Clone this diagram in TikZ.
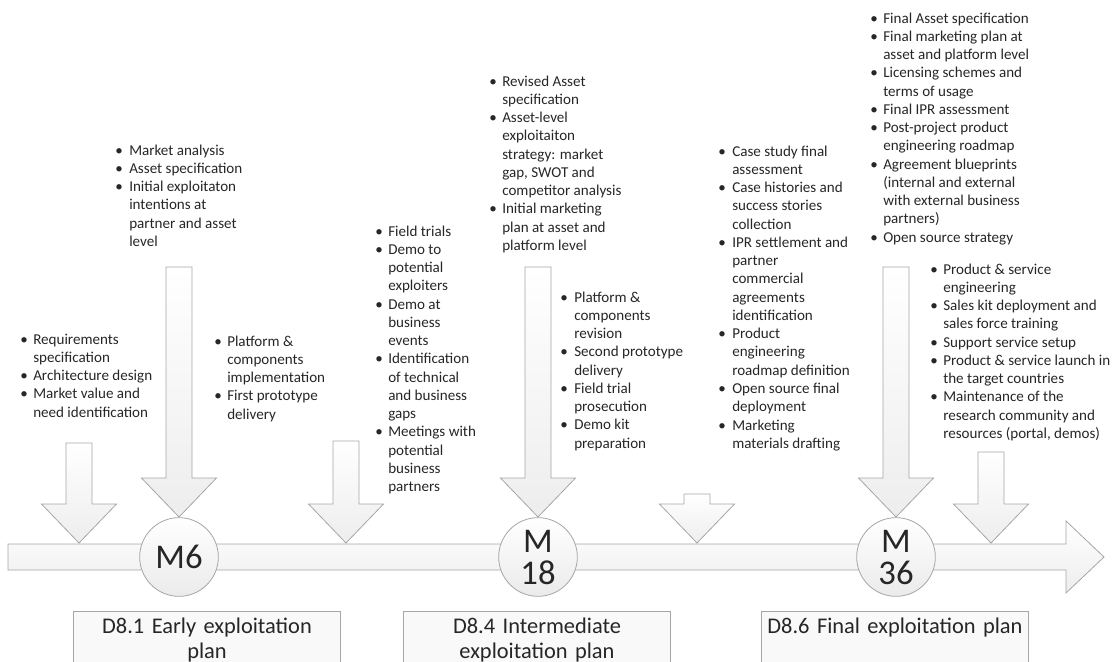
\documentclass[tikz,border=0pt]{standalone}
\usepackage{fontspec}
\setmainfont{Carlito}
\usepackage{tikz}

% down arrow: centre x, top of shaft, tip
\newcommand{\dnarrow}[3]{%
  \draw[arrowshape] (#1-13,#2) -- (#1+13,#2) -- (#1+13,#3-39) -- (#1+37.5,#3-39)
    -- (#1,#3) -- (#1-37.5,#3-39) -- (#1-13,#3-39) -- cycle;}
\newcommand{\li}{\textbullet&}

\begin{document}
\begin{tikzpicture}[x=0.75pt,y=-0.75pt,
        arrowshape/.style={draw=gray!70,line width=0.6pt,top color=white,bottom color=gray!14},
        blist/.style={anchor=base west,inner sep=0pt,font=\fontsize{11.3pt}{13.7pt}\selectfont,text=black!85},
        milestone/.style={circle,draw=gray!70,line width=0.6pt,top color=white,bottom color=gray!16,
          minimum size=59pt,inner sep=0pt,align=center,font=\fontsize{26pt}{24pt}\selectfont,text=black!85},
        deliv/.style={draw=gray!70,line width=0.6pt,fill=gray!5,anchor=north,text width=194pt,
          align=center,inner xsep=3pt,inner ysep=5pt,text depth=32pt,font=\fontsize{16.8pt}{19pt}\selectfont,text=black!85}]
    \useasboundingbox (0,0) rectangle (1114,661);
    \clip (0,0) rectangle (1114,661);

    % timeline
    \draw[arrowshape] (8,544) -- (1066,544) -- (1066,521) -- (1104,557) -- (1066,593)
      -- (1066,570) -- (8,570) -- cycle;

    \dnarrow{79}{443}{543}
    \dnarrow{179}{267}{517} % M6
    \dnarrow{346}{441}{543}
    \dnarrow{538}{267}{517} % M18
    \dnarrow{697}{494}{543}
    \dnarrow{896}{267}{517} % M36
    \dnarrow{991}{452}{543}

    \node[milestone] (m6) at (179,557) {M6};
    \node[milestone] (m18) at (538,557) {M\\18};
    \node[milestone] (m36) at (896,557) {M\\36};

    \node[deliv] (d81) at (207,611) {D8.1 Early exploitation\\plan};
    \node[deliv] (d84) at (537,611) {D8.4 Intermediate\\exploitation plan};
    \node[deliv] (d86) at (895,611) {D8.6 Final exploitation plan};

    % activities
    \node[blist] (reqs) at (20,344) {\begin{tabular}[t]{@{}p{9.75pt}@{}l@{}}
      \li Requirements\\ & specification\\ \li Architecture design\\ \li Market value and\\ & need identification
    \end{tabular}};
    \node[blist] (market) at (115,155) {\begin{tabular}[t]{@{}p{10.5pt}@{}l@{}}
      \li Market analysis\\ \li Asset specification\\ \li Initial exploitaton\\ & intentions at\\ & partner and asset\\ & level
    \end{tabular}};
    \node[blist] (impl) at (214,346) {\begin{tabular}[t]{@{}p{9.75pt}@{}l@{}}
      \li Platform \&\\ & components\\ & implementation\\ \li First prototype\\ & delivery
    \end{tabular}};
    \node[blist] (trials) at (375,236) {\begin{tabular}[t]{@{}p{9.75pt}@{}l@{}}
      \li Field trials\\ \li Demo to\\ & potential\\ & exploiters\\ \li Demo at\\ & business\\ & events\\
      \li Identification\\ & of technical\\ & and business\\ & gaps\\ \li Meetings with\\ & potential\\ & business\\ & partners
    \end{tabular}};
    \node[blist] (revised) at (489,86) {\begin{tabular}[t]{@{}p{9.75pt}@{}l@{}}
      \li Revised Asset\\ & specification\\ \li Asset-level\\ & exploitaiton\\ & strategy: market\\ & gap, SWOT and\\
      & competitor analysis\\ \li Initial marketing\\ & plan at asset and\\ & platform level
    \end{tabular}};
    \node[blist] (revision) at (560,302) {\begin{tabular}[t]{@{}p{10.5pt}@{}l@{}}
      \li Platform \&\\ & components\\ & revision\\ \li Second prototype\\ & delivery\\ \li Field trial\\ & prosecution\\
      \li Demo kit\\ & preparation
    \end{tabular}};
    \node[blist] (casestudy) at (718,156) {\begin{tabular}[t]{@{}p{10.5pt}@{}l@{}}
      \li Case study final\\ & assessment\\ \li Case histories and\\ & success stories\\ & collection\\
      \li IPR settlement and\\ & partner\\ & commercial\\ & agreements\\ & identification\\
      \li Product\\ & engineering\\ & roadmap definition\\ \li Open source final\\ & deployment\\
      \li Marketing\\ & materials drafting
    \end{tabular}};
    \node[blist] (final) at (870,23) {\begin{tabular}[t]{@{}p{9.75pt}@{}l@{}}
      \li Final Asset specification\\ \li Final marketing plan at\\ & asset and platform level\\
      \li Licensing schemes and\\ & terms of usage\\ \li Final IPR assessment\\ \li Post-project product\\
      & engineering roadmap\\ \li Agreement blueprints\\ & (internal and external\\ & with external business\\
      & partners)\\ \li Open source strategy
    \end{tabular}};
    \node[blist] (launch) at (930,274) {\begin{tabular}[t]{@{}p{9.75pt}@{}l@{}}
      \li Product \& service\\ & engineering\\ \li Sales kit deployment and\\ & sales force training\\
      \li Support service setup\\ \li Product \& service launch in\\ & the target countries\\
      \li Maintenance of the\\ & research community and\\ & resources (portal, demos)
    \end{tabular}};
\end{tikzpicture}
\end{document}
